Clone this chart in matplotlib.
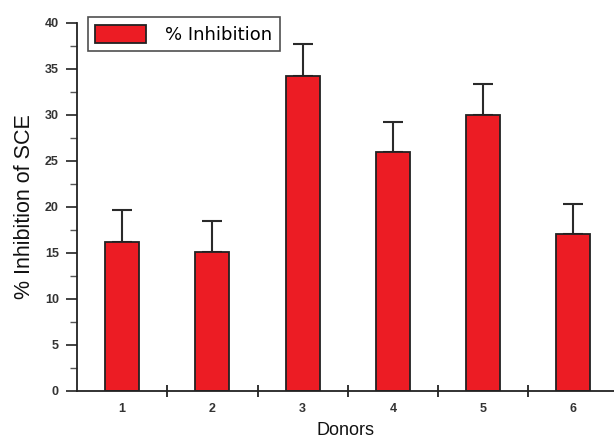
import numpy as np
import matplotlib.pyplot as plt
from matplotlib.ticker import MultipleLocator, FixedLocator
import matplotlib as mpl

mpl.rcParams['font.family'] = ['Liberation Sans', 'DejaVu Sans']

donors = ['1', '2', '3', '4', '5', '6']
inhibition = [16.2, 15.1, 34.2, 26.0, 30.0, 17.0]
errors = [3.4, 3.4, 3.5, 3.2, 3.4, 3.3]

fig = plt.figure(figsize=(6.14, 4.4), dpi=100)
ax = fig.add_axes([0.1254, 0.112, 0.8746, 0.836])

x = np.arange(1, len(donors) + 1)
ax.bar(x, inhibition, width=0.375, color='#ec1c24', edgecolor='#222222',
       linewidth=1.3, label='% Inhibition', zorder=2)
ax.errorbar(x, inhibition, yerr=[np.zeros(len(errors)), errors], fmt='none',
            ecolor='#2a2a2a', elinewidth=1.5, capsize=7, capthick=1.5, zorder=1)

ax.set_xlim(0.5, 6.45)
ax.set_ylim(0, 40)
ax.spines['top'].set_visible(False)
ax.spines['right'].set_visible(False)
for s in ('left', 'bottom'):
    ax.spines[s].set_linewidth(1.3)
    ax.spines[s].set_color('#222222')

ax.set_xticks(x)
ax.set_xticklabels(donors)
ax.xaxis.set_minor_locator(FixedLocator(x[:-1] + 0.5))
ax.tick_params(axis='x', which='major', length=0, pad=9, labelsize=9,
               labelcolor='#333333')
ax.tick_params(axis='x', which='minor', direction='inout', length=8, width=1.3,
               color='#222222')

ax.yaxis.set_major_locator(MultipleLocator(5))
ax.yaxis.set_minor_locator(MultipleLocator(2.5))
ax.tick_params(axis='y', which='major', direction='out', length=8, width=1.2,
               pad=5, labelsize=9, labelcolor='#333333', color='#222222')
ax.tick_params(axis='y', which='minor', direction='out', length=5, width=1.0,
               color='#555555')
for lab in ax.get_xticklabels() + ax.get_yticklabels():
    lab.set_fontweight('bold')

ax.set_ylabel('% Inhibition of SCE', fontsize=15.5, labelpad=7, color='#111111')
ax.set_xlabel('Donors', fontsize=13, labelpad=5, color='#111111')

leg = ax.legend(loc='upper left', bbox_to_anchor=(0.02, 1.015), frameon=True,
                fancybox=False, edgecolor='#222222',
                prop={'family': 'DejaVu Sans', 'size': 13},
                handlelength=2.8, handleheight=1.2, borderpad=0.4,
                handletextpad=1.1, borderaxespad=0)
leg.get_frame().set_linewidth(1.2)

fig.savefig('out.png', dpi=100, facecolor='white')
